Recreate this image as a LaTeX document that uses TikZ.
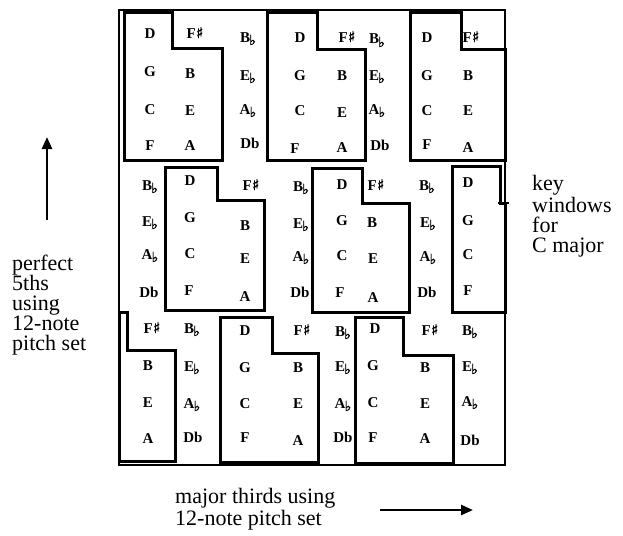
\documentclass[tikz,border=0pt]{standalone}
\usepackage{fontspec}
\setmainfont{Liberation Serif}
\newfontfamily\symf[FakeBold=1.5]{DejaVu Sans}
\usetikzlibrary{arrows.meta}
\newcommand\myflat{\kern-0.8pt{\symf\fontsize{14}{14}\selectfont\raisebox{-3pt}{♭}}}
\newcommand\mysharp{\kern0.3pt{\symf\fontsize{15}{15}\selectfont ♯}}
\begin{document}
\begin{tikzpicture}[x=1pt,y=-1pt,
  note/.style={font=\fontsize{15}{15}\selectfont\bfseries, inner sep=0pt, text height=10pt, text depth=0pt},
  win/.style={line width=3pt, line join=miter},
  frameline/.style={line width=2pt},
  lab/.style={font=\fontsize{22}{20}\selectfont, align=left, inner sep=0pt},
  arr/.style={line width=2.5pt, -{Triangle[length=12pt,width=10pt]}}]
\useasboundingbox (0,0) rectangle (623,535);
% notes
\foreach \x/\y/\t [count=\i] in {
 150/33/D, 195/33/F\mysharp, 248/37/B\myflat, 300/37/D, 347/37/F\mysharp, 377/39/B\myflat, 427/37/D, 471/37/F\mysharp,
 150/72/G, 190/73/B, 248/75/E\myflat, 300/75/G, 342/76/B, 377/75/E\myflat, 427/75/G, 468/75/B,
 150/109/C, 190/110/E, 248/109/A\myflat, 300/110/C, 342/112/E, 377/109/A\myflat, 427/110/C, 468/110/E,
 150/145/F, 190/145/A, 250/143/Db, 295/148/F, 342/147/A, 380/145/Db, 427/144/F, 468/147/A,
 150/185/B\myflat, 190/180/D, 251/185/F\mysharp, 301/186/B\myflat, 342/184/D, 376/185/F\mysharp, 427/185/B\myflat, 468/182/D,
 150/221/E\myflat, 190/217/G, 245/225/B, 301/223/E\myflat, 342/220/G, 372/222/B, 428/222/E\myflat, 468/220/G,
 150/254/A\myflat, 190/253/C, 245/258/E, 301/256/A\myflat, 342/255/C, 373/258/E, 428/256/A\myflat, 468/254/C,
 149/292/Db, 189/290/F, 245/296/A, 300/292/Db, 340/292/F, 373/297/A, 427/292/Db, 468/290/F,
 152/328/F\mysharp, 192/328/B\myflat, 245/330/D, 302/330/F\mysharp, 343/331/B\myflat, 375/328/D, 430/330/F\mysharp, 470/330/B\myflat,
 148/365/B, 192/366/E\myflat, 245/367/G, 298/367/B, 343/366/E\myflat, 373/365/G, 425/367/B, 470/366/E\myflat,
 148/402/E, 192/403/A\myflat, 245/403/C, 298/403/E, 343/403/A\myflat, 373/402/C, 425/403/E, 470/401/A\myflat,
 148/438/A, 193/437/Db, 245/437/F, 298/440/A, 343/437/Db, 373/437/F, 425/438/A, 470/440/Db}
 \node[note] (n\i) at (\x,\y) {\t};
% outer frame
\draw[frameline] (119,10) rectangle (505,465);
% key windows
\draw[win] (124,12.5) -- (172,12.5) -- (172,49) -- (222,49) -- (222,160) -- (124,160) -- cycle;
\draw[win] (267,12.5) -- (317,12.5) -- (317,50) -- (365,50) -- (365,160) -- (267,160) -- cycle;
\draw[win] (410,12.5) -- (461,12.5) -- (461,50) -- (505,50) -- (505,160) -- (410,160) -- cycle;
\draw[win] (165,167) -- (217,167) -- (217,200) -- (264,200) -- (264,310) -- (165,310) -- cycle;
\draw[win] (312,168) -- (362,168) -- (362,203) -- (409,203) -- (409,312) -- (312,312) -- cycle;
\draw[win] (452,166) -- (500,166) -- (500,203) -- (505,203) -- (505,312) -- (452,312) -- cycle;
\draw[line width=2pt] (498,203) -- (509,203);
\draw[win] (119,312) -- (127,312) -- (127,350) -- (175,350) -- (175,461) -- (119,461) -- cycle;
\draw[win] (220,317) -- (272,317) -- (272,353) -- (318,353) -- (318,462) -- (220,462) -- cycle;
\draw[win] (355,317) -- (403,317) -- (403,355) -- (453,355) -- (453,463) -- (355,463) -- cycle;
% labels (base = baseline of last line)
\node[lab, anchor=base west] (lft) at (12,350) {perfect\\5ths\\using\\12-note\\pitch set};
\node[lab, anchor=base west] (rgt) at (532,252) {key\\windows\\for\\C major};
\node[lab, anchor=base west] (bot) at (175,525) {major thirds using\\12-note pitch set};
% arrows
\coordinate (ua) at (47,220);
\coordinate (ub) at (47,137);
\draw[arr] (ua) -- (ub);
\coordinate (ra) at (380,510);
\coordinate (rb) at (473,510);
\draw[arr] (ra) -- (rb);
\end{tikzpicture}
\end{document}
